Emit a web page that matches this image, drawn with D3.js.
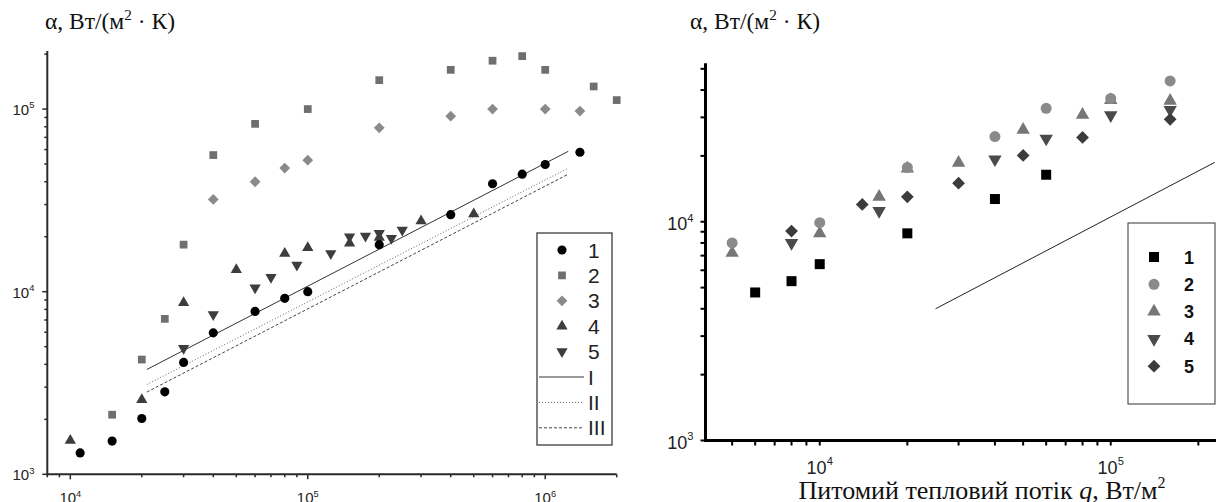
<!DOCTYPE html>
<html>
<head>
<meta charset="utf-8">
<script src="https://cdn.jsdelivr.net/npm/d3@7"></script>
<style>
  html, body { margin: 0; padding: 0; background: #fff; }
  svg { display: block; }
</style>
</head>
<body>
<div id="chart"></div>
<script>
// left panel: [q, alpha] pairs
const leftS1 = [[1.1e4, 1.31e3], [1.5e4, 1.52e3], [2e4, 2.02e3], [2.5e4, 2.83e3], [3e4, 4.1e3],
  [4e4, 5.95e3], [6e4, 7.8e3], [8e4, 9.2e3], [1e5, 1.0e4], [2e5, 1.81e4], [4e5, 2.64e4],
  [6e5, 3.9e4], [8e5, 4.4e4], [1e6, 4.97e4], [1.4e6, 5.8e4]];
const leftS2 = [[1.5e4, 2.12e3], [2e4, 4.25e3], [2.5e4, 7.1e3], [3e4, 1.81e4], [4e4, 5.6e4],
  [6e4, 8.3e4], [1e5, 1.0e5], [2e5, 1.44e5], [4e5, 1.64e5], [6e5, 1.84e5], [8e5, 1.95e5],
  [1e6, 1.64e5], [1.6e6, 1.33e5], [2e6, 1.12e5]];
const leftS3 = [[4e4, 3.2e4], [6e4, 4.0e4], [8e4, 4.75e4], [1e5, 5.25e4], [2e5, 7.9e4],
  [4e5, 9.15e4], [6e5, 1.0e5], [1e6, 1.0e5], [1.4e6, 9.75e4]];
const leftS4 = [[1e4, 1.53e3], [2e4, 2.56e3], [3e4, 8.7e3], [5e4, 1.32e4], [8e4, 1.62e4],
  [1e5, 1.74e4], [1.5e5, 1.84e4], [2e5, 1.98e4], [3e5, 2.44e4], [5e5, 2.66e4]];
const leftS5 = [[3e4, 4.9e3], [4e4, 7.5e3], [6e4, 1.05e4], [7e4, 1.2e4], [9e4, 1.4e4],
  [1.25e5, 1.62e4], [1.5e5, 2.0e4], [1.75e5, 2.02e4], [2e5, 2.09e4], [2.25e5, 1.96e4], [2.5e5, 2.18e4]];
const leftLineI = [[2.1e4, 3.75e3], [1.25e6, 5.87e4]];
const leftLineII = [[2.1e4, 3.1e3], [1.25e6, 4.75e4]];
const leftLineIII = [[2.1e4, 2.82e3], [1.25e6, 4.4e4]];
const leftLegend = ["1", "2", "3", "4", "5", "I", "II", "III"];

// right panel
const rightS1 = [[6e3, 4.75e3], [8e3, 5.35e3], [1e4, 6.4e3], [2e4, 8.85e3], [4e4, 1.27e4], [6e4, 1.64e4]];
const rightS2 = [[5e3, 8.0e3], [1e4, 9.9e3], [2e4, 1.77e4], [4e4, 2.45e4], [6e4, 3.3e4], [1e5, 3.66e4], [1.6e5, 4.4e4]];
const rightS3 = [[5e3, 7.2e3], [1e4, 8.85e3], [1.6e4, 1.3e4], [2e4, 1.75e4], [3e4, 1.86e4], [5e4, 2.63e4],
  [8e4, 3.08e4], [1e5, 3.6e4], [1.6e5, 3.57e4]];
const rightS4 = [[8e3, 8.0e3], [1.6e4, 1.12e4], [4e4, 1.93e4], [6e4, 2.4e4], [1e5, 3.07e4], [1.6e5, 3.25e4]];
const rightS5 = [[8e3, 9.06e3], [1.4e4, 1.2e4], [2e4, 1.3e4], [3e4, 1.5e4], [5e4, 2.01e4], [8e4, 2.43e4], [1.6e5, 2.94e4]];
const rightLine = [[2.5e4, 4.0e3], [2.28e5, 1.87e4]];
const rightLegend = ["1", "2", "3", "4", "5"];

const W = 1220, H = 502;
const SANS = "'Liberation Sans', Arial, sans-serif";
const SERIF = "'Liberation Serif', 'Times New Roman', serif";

const svg = d3.select("#chart").append("svg").attr("width", W).attr("height", H);

// symbol helpers
function sym(type, size) {
  if (type === "circle") return d3.symbol(d3.symbolCircle, size)();
  if (type === "square") return d3.symbol(d3.symbolSquare, size)();
  if (type === "diamond") return d3.symbol(d3.symbolSquare, size)();
  return d3.symbol(d3.symbolTriangle, size)();
}
function rot(type) {
  if (type === "diamond") return 45;
  if (type === "down") return 180;
  return 0;
}

function drawPoints(g, data, x, y, type, size, fill) {
  g.append("g").selectAll("path")
    .data(data)
    .join("path")
    .attr("d", sym(type, size))
    .attr("transform", d => `translate(${x(d[0])},${y(d[1])}) rotate(${rot(type)})`)
    .attr("fill", fill);
}

function powText(g, px, py, exp, size, anchor) {
  const t = g.append("text")
    .attr("x", px).attr("y", py)
    .attr("text-anchor", anchor)
    .attr("font-family", SANS)
    .attr("font-size", size)
    .attr("fill", "#222");
  t.append("tspan").text("10");
  t.append("tspan").attr("dy", -size * 0.45).attr("font-size", size * 0.62).text(exp);
}

function drawAxes(g, x, y, o) {
  const isMajor = v => Math.abs(Math.log10(v) - Math.round(Math.log10(v))) < 1e-9;
  const xt = x.ticks().filter(v => v >= x.domain()[0] * 0.999 && v <= x.domain()[1] * 1.001);
  const yt = y.ticks().filter(v => v >= y.domain()[0] * 0.999 && v <= y.domain()[1] * 1.001);
  const x0 = x.range()[0], y0 = y.range()[0];

  // ticks
  g.append("g").selectAll("line")
    .data(xt)
    .join("line")
    .attr("x1", d => x(d)).attr("x2", d => x(d))
    .attr("y1", y0).attr("y2", d => y0 + (isMajor(d) ? o.major : o.minor))
    .attr("stroke", o.color).attr("stroke-width", o.tickW);
  g.append("g").selectAll("line")
    .data(yt)
    .join("line")
    .attr("y1", d => y(d)).attr("y2", d => y(d))
    .attr("x1", x0).attr("x2", d => x0 - (isMajor(d) ? o.major : o.minor))
    .attr("stroke", o.color).attr("stroke-width", o.tickW);

  // axis lines
  g.append("line")
    .attr("x1", x0).attr("x2", x.range()[1])
    .attr("y1", y0).attr("y2", y0)
    .attr("stroke", o.color).attr("stroke-width", o.lineW);
  g.append("line")
    .attr("x1", x0).attr("x2", x0)
    .attr("y1", y0 + o.lineW / 2).attr("y2", y.range()[1])
    .attr("stroke", o.color).attr("stroke-width", o.lineW);

  // labels
  xt.filter(isMajor).forEach(v => {
    powText(g, x(v), y0 + o.xLabDy, Math.round(Math.log10(v)), o.labSize, "middle");
  });
  yt.filter(isMajor).forEach(v => {
    powText(g, x0 - o.yLabDx, y(v) + o.yLabDy, Math.round(Math.log10(v)), o.labSize, "end");
  });
}

function yTitle(px, py, size) {
  const t = svg.append("text")
    .attr("x", px).attr("y", py)
    .attr("font-family", SERIF)
    .attr("font-size", size)
    .attr("fill", "#111");
  t.append("tspan").text("α, Вт/(м");
  t.append("tspan").attr("dy", -size * 0.4).attr("font-size", size * 0.65).text("2");
  t.append("tspan").attr("dy", size * 0.4).text(" · К)");
}

// ---------- left panel ----------
const xL = d3.scaleLog().domain([8e3, 2e6]).range([47.3, 616.7]);
const yL = d3.scaleLog().domain([1e3, 2.08e5]).range([474.3, 51]);
const gL = svg.append("g");

const lineGen = (x, y) => d3.line().x(d => x(d[0])).y(d => y(d[1]));
gL.append("path").attr("d", lineGen(xL, yL)(leftLineI))
  .attr("fill", "none").attr("stroke", "#333").attr("stroke-width", 1);
gL.append("path").attr("d", lineGen(xL, yL)(leftLineII))
  .attr("fill", "none").attr("stroke", "#666").attr("stroke-width", 1).attr("stroke-dasharray", "1,2");
gL.append("path").attr("d", lineGen(xL, yL)(leftLineIII))
  .attr("fill", "none").attr("stroke", "#444").attr("stroke-width", 1).attr("stroke-dasharray", "3,2");

const leftStyle = [
  { data: leftS1, type: "circle", size: 66, fill: "#000" },
  { data: leftS2, type: "square", size: 60, fill: "#6f6f6f" },
  { data: leftS3, type: "diamond", size: 58, fill: "#8a8a8a" },
  { data: leftS4, type: "up", size: 55, fill: "#3d3d3d" },
  { data: leftS5, type: "down", size: 55, fill: "#3d3d3d" }
];
leftStyle.slice().reverse().forEach(s => drawPoints(gL, s.data, xL, yL, s.type, s.size, s.fill));

drawAxes(gL, xL, yL, {
  color: "#2a2a2a", lineW: 2, tickW: 1.5, major: 5, minor: 3,
  labSize: 15, xLabDy: 29, yLabDx: 13, yLabDy: 6
});
yTitle(45, 29, 23.5);

// left legend
const lgL = svg.append("g").attr("transform", "translate(537,233)");
lgL.append("rect").attr("width", 75).attr("height", 212)
  .attr("fill", "#fff").attr("stroke", "#555").attr("stroke-width", 1.5);
const lineDash = [null, "1,2", "3,2"];
const lineCol = ["#333", "#666", "#444"];
leftLegend.forEach((lab, i) => {
  const cy = 17 + i * 25.4;
  if (i < 5) {
    const s = leftStyle[i];
    lgL.append("path").attr("d", sym(s.type, s.size))
      .attr("transform", `translate(25,${cy}) rotate(${rot(s.type)})`)
      .attr("fill", s.fill);
  } else {
    lgL.append("line").attr("x1", 2).attr("x2", 47).attr("y1", cy).attr("y2", cy)
      .attr("stroke", lineCol[i - 5]).attr("stroke-width", 1)
      .attr("stroke-dasharray", lineDash[i - 5]);
  }
  lgL.append("text").attr("x", 51).attr("y", cy + 7.5)
    .attr("font-family", SANS).attr("font-size", 21).attr("fill", "#222")
    .text(lab);
});

// ---------- right panel ----------
const xR = d3.scaleLog().domain([4.05e3, 2.3e5]).range([705.5, 1216]);
const yR = d3.scaleLog().domain([1e3, 5.3e4]).range([440.5, 63.3]);
const gR = svg.append("g");

gR.append("path").attr("d", lineGen(xR, yR)(rightLine))
  .attr("fill", "none").attr("stroke", "#222").attr("stroke-width", 1);

const rightStyle = [
  { data: rightS1, type: "square", size: 100, fill: "#000" },
  { data: rightS2, type: "circle", size: 95, fill: "#8a8a8a" },
  { data: rightS3, type: "up", size: 78, fill: "#767676" },
  { data: rightS4, type: "down", size: 78, fill: "#4a4a4a" },
  { data: rightS5, type: "diamond", size: 82, fill: "#3c3c3c" }
];
[2, 1, 3, 4, 0].forEach(i => {
  const s = rightStyle[i];
  drawPoints(gR, s.data, xR, yR, s.type, s.size, s.fill);
});

drawAxes(gR, xR, yR, {
  color: "#000", lineW: 3, tickW: 2, major: 5, minor: 5,
  labSize: 18, xLabDy: 33, yLabDx: 12, yLabDy: 8
});
yTitle(690, 29, 23.5);

// x axis title
const xt = svg.append("text")
  .attr("x", 982).attr("y", 499)
  .attr("text-anchor", "middle")
  .attr("font-family", SERIF).attr("font-size", 26).attr("fill", "#111");
xt.append("tspan").text("Питомий тепловий потік ");
xt.append("tspan").attr("font-style", "italic").text("q");
xt.append("tspan").text(", Вт/м");
xt.append("tspan").attr("dy", -11).attr("font-size", 16).text("2");

// right legend
const lgR = svg.append("g").attr("transform", "translate(1128,223)");
lgR.append("rect").attr("width", 87).attr("height", 181)
  .attr("fill", "#fff").attr("stroke", "#333").attr("stroke-width", 1);
rightLegend.forEach((lab, i) => {
  const cy = 34 + i * 27.3;
  const s = rightStyle[i];
  lgR.append("path").attr("d", sym(s.type, s.size))
    .attr("transform", `translate(26,${cy}) rotate(${rot(s.type)})`)
    .attr("fill", s.fill);
  lgR.append("text").attr("x", 56).attr("y", cy + 6.5)
    .attr("font-family", SANS).attr("font-size", 18).attr("font-weight", "bold").attr("fill", "#111")
    .text(lab);
});
</script>
</body>
</html>
